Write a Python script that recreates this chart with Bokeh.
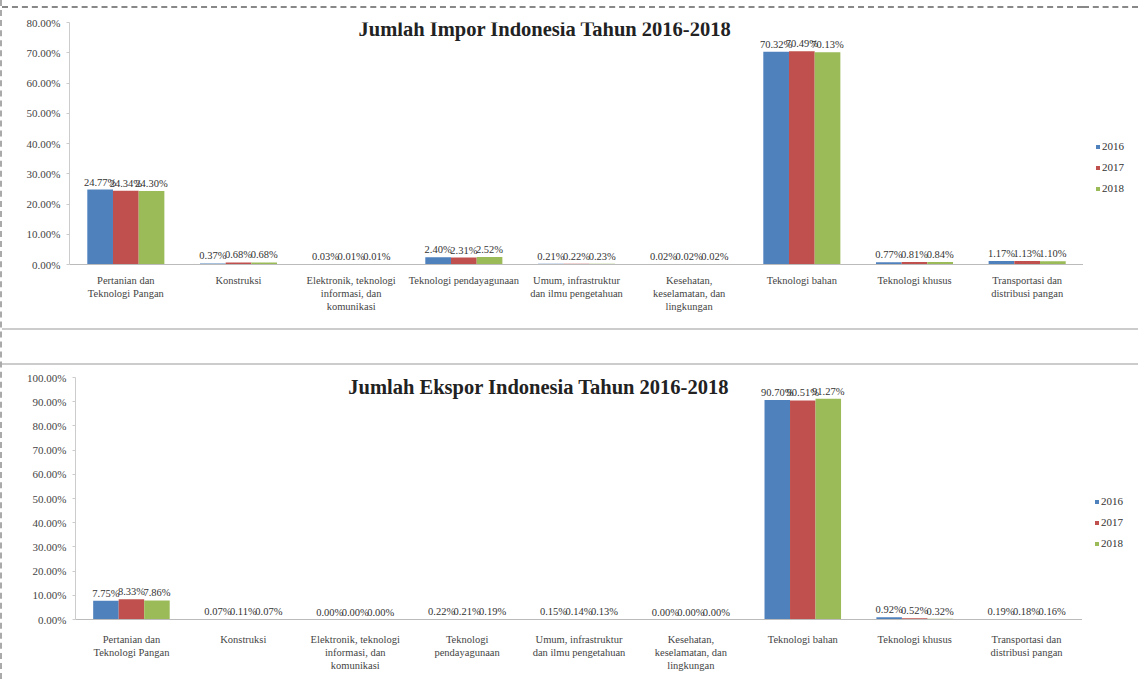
from bokeh.plotting import figure
from bokeh.models import (SingleIntervalTicker, PrintfTickFormatter, Legend, LegendItem,
                          ColumnDataSource, Label, Spacer)
from bokeh.transform import dodge
from bokeh.layouts import column, row
from bokeh.core.properties import value
from bokeh.embed import file_html
from bokeh.resources import INLINE

# ---------------- data ----------------
labels_impor = ["Pertanian dan\nTeknologi Pangan", "Konstruksi",
                "Elektronik, teknologi\ninformasi, dan\nkomunikasi",
                "Teknologi pendayagunaan",
                "Umum, infrastruktur\ndan ilmu pengetahuan",
                "Kesehatan,\nkeselamatan, dan\nlingkungan",
                "Teknologi bahan", "Teknologi khusus",
                "Transportasi dan\ndistribusi pangan"]
labels_ekspor = ["Pertanian dan\nTeknologi Pangan", "Konstruksi",
                 "Elektronik, teknologi\ninformasi, dan\nkomunikasi",
                 "Teknologi\npendayagunaan",
                 "Umum, infrastruktur\ndan ilmu pengetahuan",
                 "Kesehatan,\nkeselamatan, dan\nlingkungan",
                 "Teknologi bahan", "Teknologi khusus",
                 "Transportasi dan\ndistribusi pangan"]
years = ["2016", "2017", "2018"]

impor_2016 = [24.77, 0.37, 0.03, 2.40, 0.21, 0.02, 70.32, 0.77, 1.17]
impor_2017 = [24.34, 0.68, 0.01, 2.31, 0.22, 0.02, 70.49, 0.81, 1.13]
impor_2018 = [24.30, 0.68, 0.01, 2.52, 0.23, 0.02, 70.13, 0.84, 1.10]

ekspor_2016 = [7.75, 0.07, 0.00, 0.22, 0.15, 0.00, 90.70, 0.92, 0.19]
ekspor_2017 = [8.33, 0.11, 0.00, 0.21, 0.14, 0.00, 90.51, 0.52, 0.18]
ekspor_2018 = [7.86, 0.07, 0.00, 0.19, 0.13, 0.00, 91.27, 0.32, 0.16]

title_impor = "Jumlah Impor Indonesia Tahun 2016-2018"
title_ekspor = "Jumlah Ekspor Indonesia Tahun 2016-2018"

colors = ["#4F81BD", "#C0504D", "#9BBB59"]
FONT = "Liberation Serif"


def make_chart(title, labels, series, ymax, width, leg_width, height, bl, bt, bb,
               title_x, title_y, margin, styles, standoff):
    p = figure(x_range=labels, y_range=(0, ymax), width=width, height=height,
               output_backend="svg", toolbar_location=None,
               min_border_left=bl, min_border_right=0, min_border_top=bt,
               min_border_bottom=bb, margin=margin, styles=styles)
    p.outline_line_color = None
    p.xgrid.visible = False
    p.ygrid.visible = False
    p.background_fill_color = "white"
    p.border_fill_color = "white"

    data = dict(x=labels)
    for y, s in zip(years, series):
        data["v" + y] = s
        data["t" + y] = ["%.2f%%" % v for v in s]
    src = ColumnDataSource(data)

    offsets = [-0.228, 0.0, 0.228]
    for y, off, c in zip(years, offsets, colors):
        p.vbar(x=dodge("x", off, range=p.x_range), top="v" + y, width=0.228,
               source=src, fill_color=c, line_color=None)
        p.text(x=dodge("x", off, range=p.x_range), y="v" + y, text="t" + y,
               source=src, text_font=value(FONT), text_font_size="10.5px",
               text_color="#333333", text_align="center",
               text_baseline="bottom", y_offset=-2)

    p.add_layout(Label(x=title_x, y=title_y, text=title, text_font=FONT,
                       text_font_size="20.5px", text_font_style="bold",
                       text_color="#222222", text_align="center",
                       text_baseline="middle"))

    yax = p.yaxis[0]
    yax.ticker = SingleIntervalTicker(interval=10)
    yax.formatter = PrintfTickFormatter(format="%.2f%%")
    yax.major_label_text_font = FONT
    yax.major_label_text_font_size = "11px"
    yax.major_label_text_color = "#444444"
    yax.axis_line_color = "#cccccc"
    yax.major_tick_line_color = "#cccccc"
    yax.major_tick_in = 0
    yax.major_tick_out = 3
    yax.minor_tick_line_color = None

    xax = p.xaxis[0]
    xax.major_label_text_font = FONT
    xax.major_label_text_font_size = "10.5px"
    xax.major_label_text_color = "#444444"
    xax.axis_line_color = "#bbbbbb"
    xax.major_tick_line_color = None
    xax.major_label_standoff = standoff

    # legend in a narrow companion figure on the right (its bars lie far out of view)
    lf = figure(x_range=(0, 1), y_range=(0, 1), width=leg_width, height=height,
                output_backend="svg", toolbar_location=None,
                x_axis_location=None, y_axis_location=None,
                min_border_left=0, min_border_right=0, min_border_top=bt,
                min_border_bottom=bb, margin=margin, styles=styles)
    lf.outline_line_color = None
    lf.grid.visible = False
    items = []
    for i, (y, c) in enumerate(zip(years, colors)):
        r = lf.vbar(x=i + 50, top=0.5, bottom=0.4, width=0.5,
                    fill_color=c, line_color=None)
        items.append(LegendItem(label=y, renderers=[r]))
    leg = Legend(items=items, location=(12, 70), orientation="vertical",
                 label_text_font=FONT, label_text_font_size="11px",
                 label_text_color="#333333", glyph_width=5, glyph_height=5,
                 label_standoff=2, spacing=9, padding=0, margin=0,
                 label_height=11, border_line_color=None,
                 background_fill_alpha=0)
    lf.add_layout(leg)
    return row(p, lf)


top = make_chart(title_impor, labels_impor, [impor_2016, impor_2017, impor_2018],
                 80, 1081, 55, 324, 67, 14, 68,
                 4.22, 77.7, (6, 0, 0, 0),
                 {"border-top": "2px dashed #888888",
                  "border-bottom": "2px solid #cccccc"}, 4)
bottom = make_chart(title_ekspor, labels_ekspor, [ekspor_2016, ekspor_2017, ekspor_2018],
                    100, 1080, 56, 316, 73, 12, 62,
                    4.14, 96.2, (0, 0, 0, 0),
                    {"border-top": "2px solid #cccccc"}, 8)

layout = column(top, Spacer(height=33), bottom,
                styles={"border-left": "2px dashed #aaaaaa"})

open("out.html", "w").write(file_html(layout, INLINE))
